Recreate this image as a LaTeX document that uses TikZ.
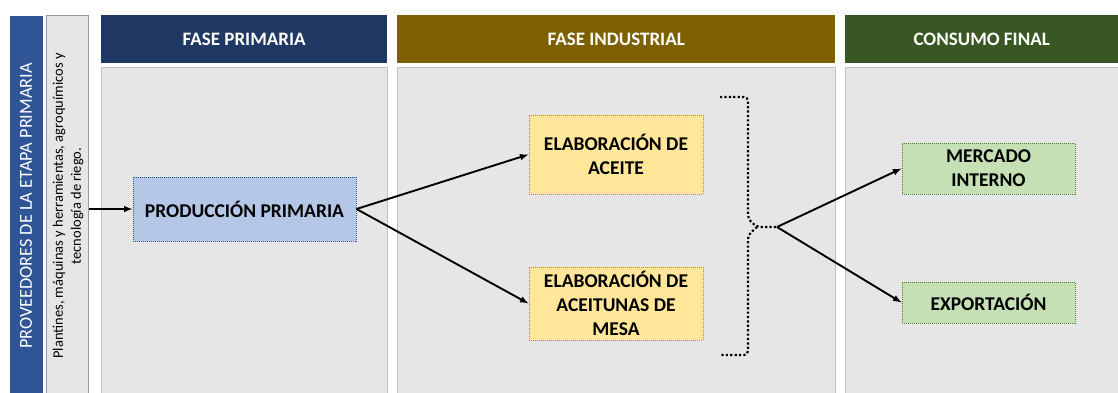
\documentclass[tikz,border=0pt]{standalone}
\usepackage{fontspec}
\setmainfont{Carlito}
\usetikzlibrary{arrows}
\definecolor{barblue}{HTML}{2F5597}
\definecolor{navy}{HTML}{1F3864}
\definecolor{olivegold}{HTML}{7F6000}
\definecolor{darkgreen}{HTML}{385723}
\definecolor{panelgrey}{HTML}{E6E6E6}
\definecolor{panelline}{HTML}{BFBFBF}
\definecolor{primfill}{HTML}{B4C7E7}
\definecolor{indfill}{HTML}{FFE699}
\definecolor{inddraw}{HTML}{BF9000}
\definecolor{finfill}{HTML}{C5E0B4}
\definecolor{findraw}{HTML}{548235}
\tikzset{
  head/.style = {shape=rectangle, anchor=north west, inner sep=0pt,
                 text=white, font=\fontsize{19}{22}\selectfont\bfseries,
                 minimum height=48pt},
  panel/.style = {shape=rectangle, anchor=north west, inner sep=0pt,
                  draw=panelline, fill=panelgrey, line width=1pt},
  stage/.style = {shape=rectangle, draw, align=center, inner sep=0pt,
                  line width=1pt, dash pattern=on 1pt off 1pt,
                  font=\fontsize{19.5}{24}\selectfont\bfseries},
  prim/.style = {stage, fill=primfill, draw=barblue},
  ind/.style  = {stage, fill=indfill, draw=inddraw},
  fin/.style  = {stage, fill=finfill, draw=findraw},
  flow/.style = {draw, -latex, line width=1.9pt},
  bracedots/.style = {line width=2.2pt, dash pattern=on 2.2pt off 2.2pt,
                      rounded corners=4pt}
}
\begin{document}
\begin{tikzpicture}[x=1pt, y=-1pt]
  \useasboundingbox (0,0) rectangle (1118,392);

  % left column
  \node[panel, draw=none, fill=barblue, minimum width=33pt, minimum height=380pt]
    (provbar) at (9,15) {};
  \node[panel, draw=panelline!80!black, minimum width=42pt, minimum height=380pt]
    (prov) at (46,15) {};
  \node[rotate=90, text=white, font=\fontsize{18.3}{20}\selectfont]
    (provtitle) at (26,206) {PROVEEDORES DE LA ETAPA PRIMARIA};
  \node[rotate=90, align=center, inner sep=0pt, font=\fontsize{14.5}{18}\selectfont]
    (provtext) at (68,206) {Plantines, máquinas y herramientas, agroquímicos y\\tecnología de riego.};

  % headers
  \node[head, fill=navy, minimum width=286pt] (hprim) at (101,15) {FASE PRIMARIA};
  \node[head, fill=olivegold, minimum width=438pt] (hind) at (397,15) {FASE INDUSTRIAL};
  \node[head, fill=darkgreen, minimum width=273pt] (hfin) at (845,15) {CONSUMO FINAL};

  % panels
  \node[panel, minimum width=286pt, minimum height=330pt] (pprim) at (101,67) {};
  \node[panel, minimum width=438pt, minimum height=330pt] (pind) at (397,67) {};
  \node[panel, minimum width=273pt, minimum height=330pt] (pfin) at (845,67) {};

  % stages
  \node[prim, minimum width=223pt, minimum height=64pt]
    (prod) at (244.5,209) {PRODUCCIÓN PRIMARIA};
  \node[ind, minimum width=174pt, minimum height=79pt]
    (aceite) at (616,154.5) {ELABORACIÓN DE\\ACEITE};
  \node[ind, minimum width=174pt, minimum height=73pt]
    (mesa) at (616,303.5) {ELABORACIÓN DE\\ACEITUNAS DE\\MESA};
  \node[fin, minimum width=173pt, minimum height=51pt]
    (mercado) at (988.5,168.5) {MERCADO\\INTERNO};
  \node[fin, minimum width=173pt, minimum height=41pt]
    (export) at (988.5,302.5) {EXPORTACIÓN};

  % brace
  \coordinate (tip) at (777,227);
  \coordinate (joint) at (757,227);
  \draw[bracedots] (720,97) -| (748,219) -- (joint) -- (tip);
  \draw[bracedots] (joint) -- (748,235) |- (720,355);

  % connectors
  \draw[flow] (prov.east |- prod.west) -- (prod.west);
  \draw[flow] (prod.east) -- (aceite.west);
  \draw[flow] (prod.east) -- (mesa.west);
  \draw[flow] (tip) -- (mercado.west);
  \draw[flow] (tip) -- (export.west);
\end{tikzpicture}
\end{document}
